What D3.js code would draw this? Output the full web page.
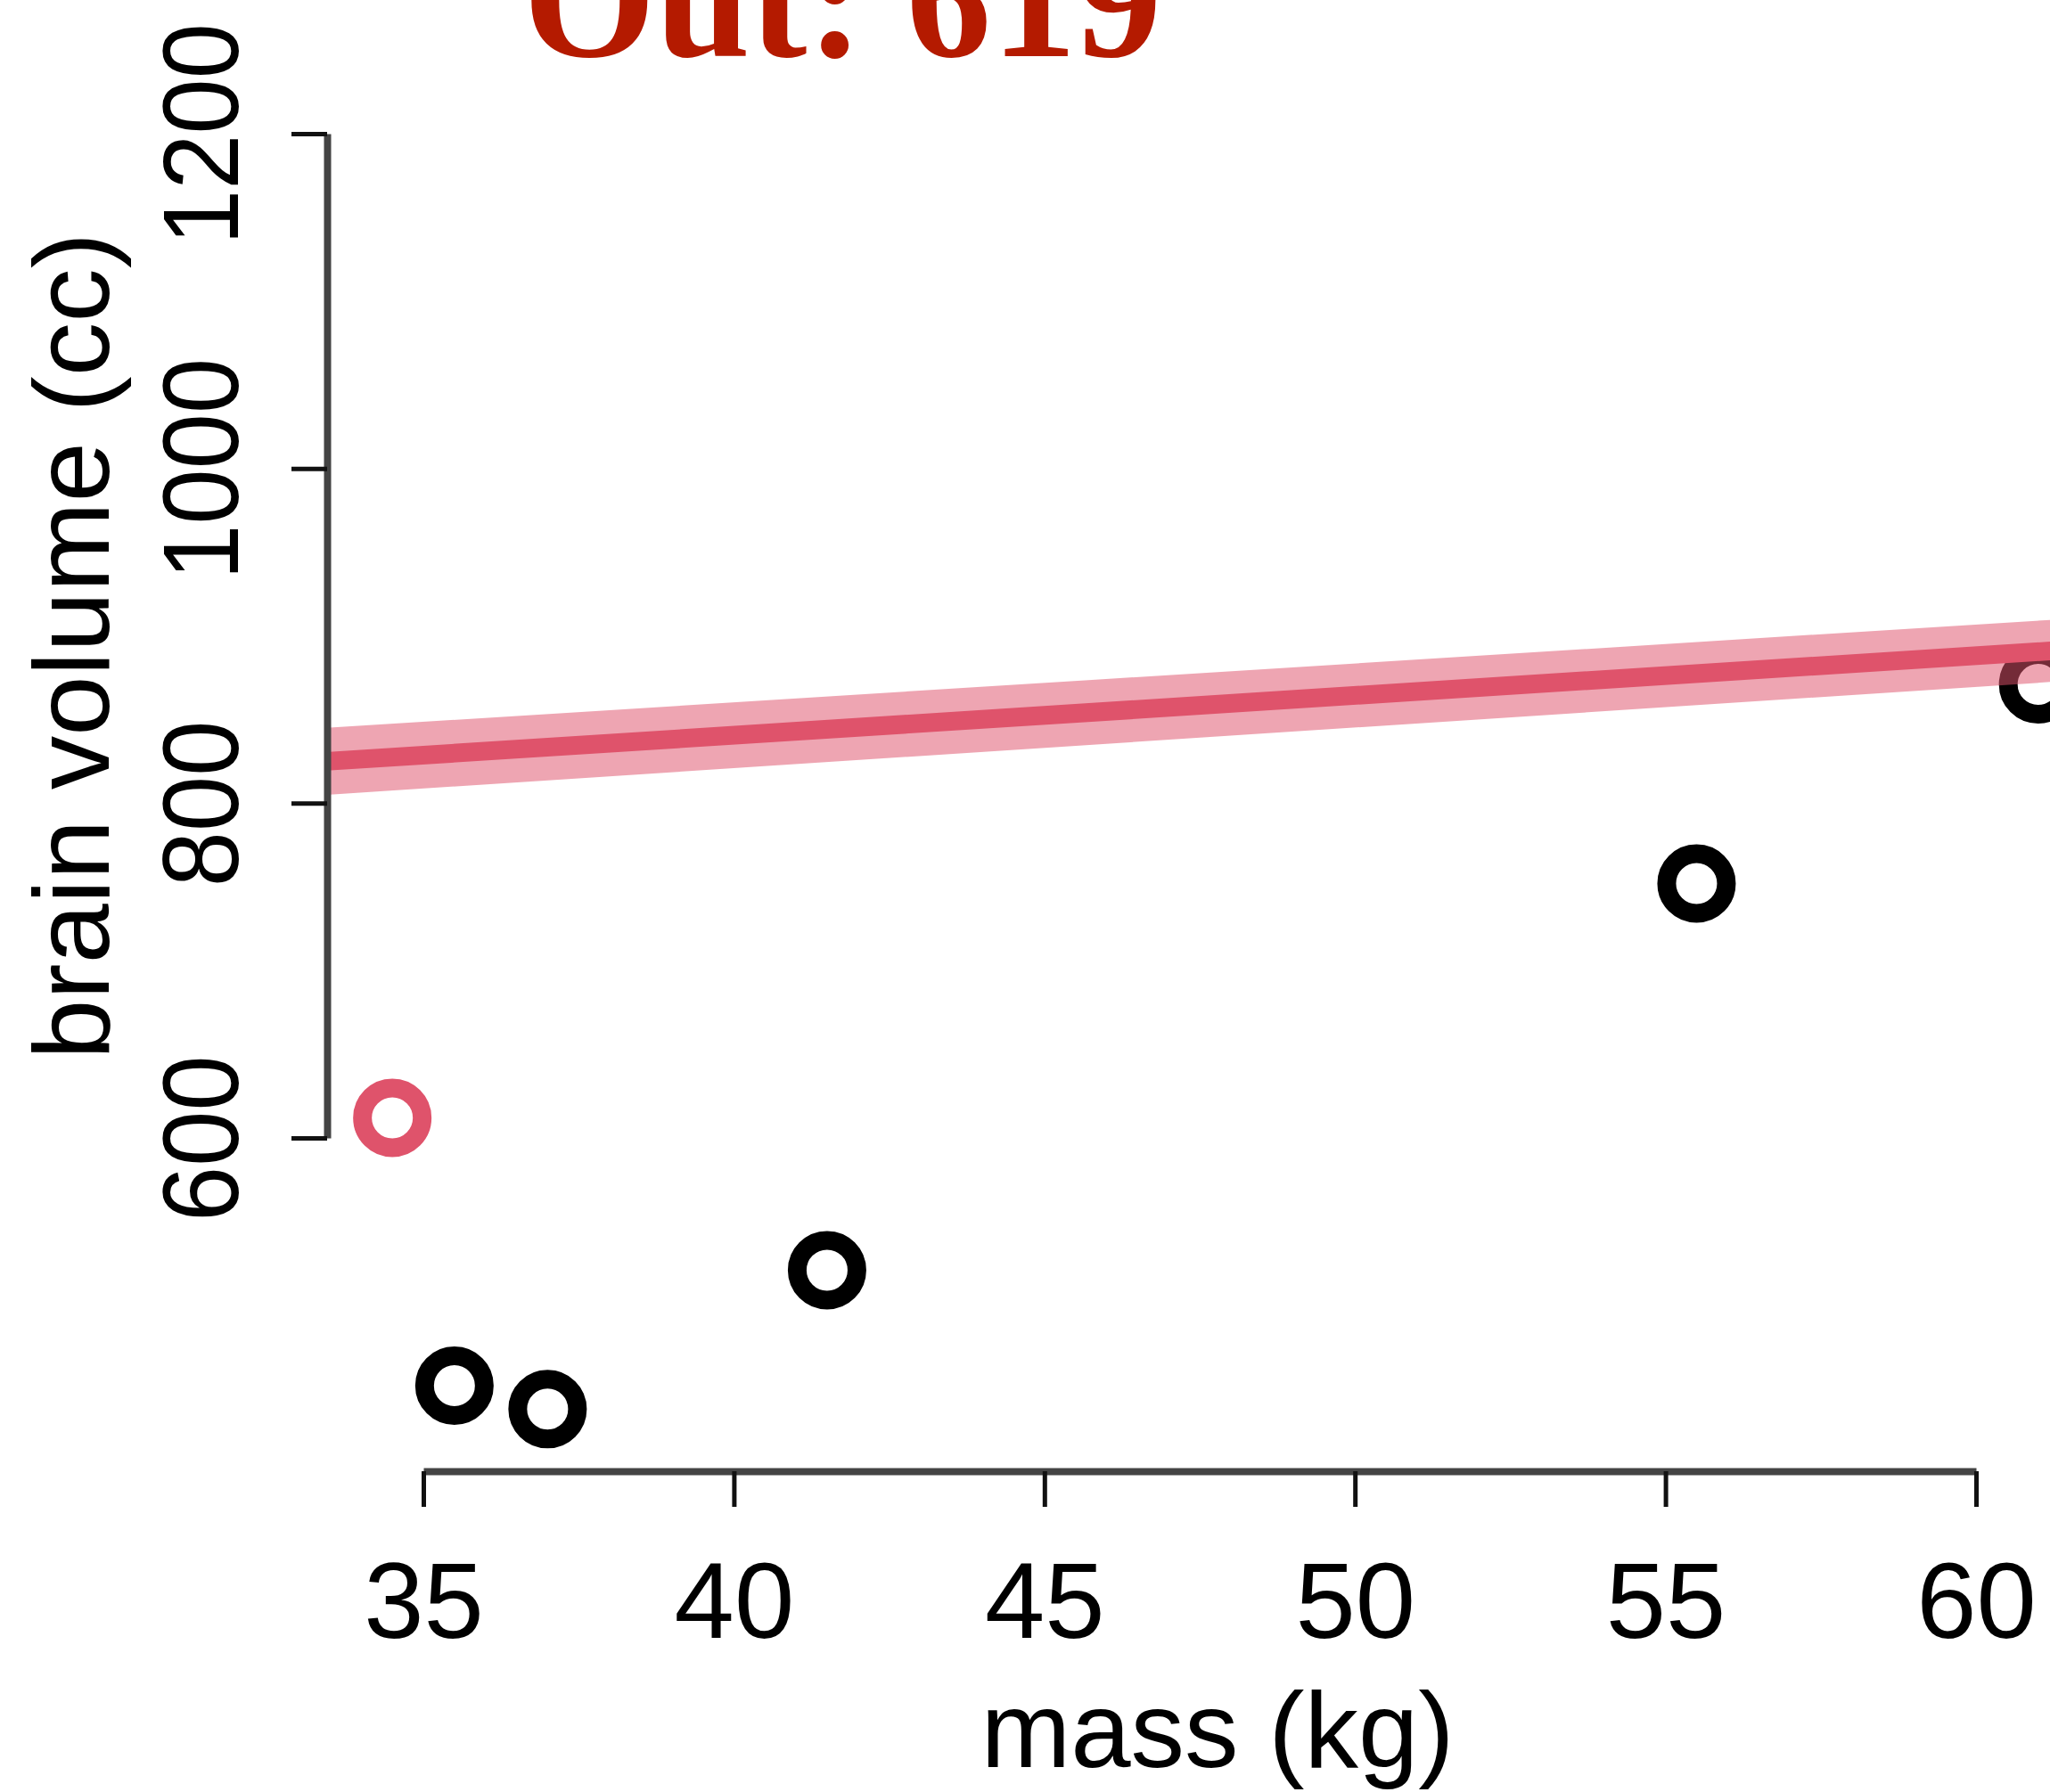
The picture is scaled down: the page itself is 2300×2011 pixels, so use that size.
<!DOCTYPE html>
<html>
<head>
<meta charset="utf-8">
<script src="https://cdn.jsdelivr.net/npm/d3@7"></script>
<style>
  html, body { margin: 0; padding: 0; background: #fff; }
  svg { display: block; }
</style>
</head>
<body>
<div id="chart"></div>
<script>
// ---- data ----
const species = ["afarensis", "africanus", "habilis", "boisei", "rudolfensis", "ergaster"];
const mass    = [37.0, 35.5, 34.5, 41.5, 55.5, 61.0];
const brain   = [438, 452, 612, 521, 752, 871];
const leftOut = "habilis";

// fitted line and its band (ends of plot range)
const lineMass  = [33.44, 62.06];
const lineMu    = [825, 893];
const bandLower = [805, 874.5];
const bandUpper = [845, 911.5];

const xTicks = [35, 40, 45, 50, 55, 60];
const yTicks = [600, 800, 1000, 1200];
const titleText = "Out: 619";
const xLabel = "mass (kg)";
const yLabel = "brain volume (cc)";

// ---- layout ----
const W = 2300, H = 2011;
const sans = "'Liberation Sans', Arial, Helvetica, sans-serif";
const red = "#DF536B";

const svg = d3.select("#chart").append("svg")
  .attr("width", W).attr("height", H);

const x = d3.scaleLinear().domain([35, 60]).range([475, 2217]);
const y = d3.scaleLinear().domain([600, 1200]).range([1277, 150]);

const pts = species.map((s, i) => ({s, m: mass[i], b: brain[i]}));

// points
svg.append("g").selectAll("circle").data(pts).join("circle")
  .attr("cx", d => x(d.m))
  .attr("cy", d => y(d.b))
  .attr("r", 33.5)
  .attr("fill", "none")
  .attr("stroke", d => d.s === leftOut ? red : "#000")
  .attr("stroke-width", 21);

// band
const bandData = lineMass.map((m, i) => ({m, lo: bandLower[i], hi: bandUpper[i], mu: lineMu[i]}));
svg.append("path")
  .datum(bandData)
  .attr("d", d3.area().x(d => x(d.m)).y0(d => y(d.lo)).y1(d => y(d.hi)))
  .attr("fill", red)
  .attr("fill-opacity", 0.52);

// line
svg.append("path")
  .datum(bandData)
  .attr("d", d3.line().x(d => x(d.m)).y(d => y(d.mu)))
  .attr("fill", "none")
  .attr("stroke", red)
  .attr("stroke-width", 21);

// x axis
const gx = svg.append("g").attr("transform", "translate(0,1651)")
  .call(d3.axisBottom(x).tickValues(xTicks).tickSize(40).tickSizeOuter(0).tickFormat(d3.format("d")));
gx.attr("font-family", null).attr("font-size", null);
gx.select(".domain").attr("stroke", "#444").attr("stroke-width", 8);
gx.selectAll(".tick line").attr("stroke", "#111").attr("stroke-width", 5);
gx.selectAll(".tick text")
  .attr("y", 187).attr("dy", null)
  .attr("font-family", sans).attr("font-size", 121).attr("fill", "#000");

// y axis
const gy = svg.append("g").attr("transform", "translate(367,0)")
  .call(d3.axisLeft(y).tickValues(yTicks).tickSize(40).tickSizeOuter(0).tickFormat(d3.format("d")));
gy.attr("font-family", null).attr("font-size", null);
gy.select(".domain").attr("stroke", "#444").attr("stroke-width", 8);
gy.selectAll(".tick line").attr("stroke", "#111").attr("stroke-width", 5);
gy.selectAll(".tick text")
  .attr("transform", "rotate(-90) scale(0.925,1)")
  .attr("x", 0).attr("y", -100).attr("dy", null)
  .attr("text-anchor", "middle")
  .attr("font-family", sans).attr("font-size", 121).attr("fill", "#000");

// axis labels
svg.append("text")
  .attr("x", 1366).attr("y", 1983)
  .attr("text-anchor", "middle")
  .attr("font-family", sans).attr("font-size", 121)
  .text(xLabel);

svg.append("text")
  .attr("transform", "translate(122,725) rotate(-90)")
  .attr("text-anchor", "middle")
  .attr("font-family", sans).attr("font-size", 121)
  .text(yLabel);

// title
svg.append("text")
  .attr("x", 587).attr("y", 63)
  .attr("font-family", "'Liberation Serif', 'Times New Roman', serif")
  .attr("font-weight", "bold")
  .attr("font-size", 191)
  .attr("fill", "#B41A00")
  .text(titleText);
</script>
</body>
</html>
